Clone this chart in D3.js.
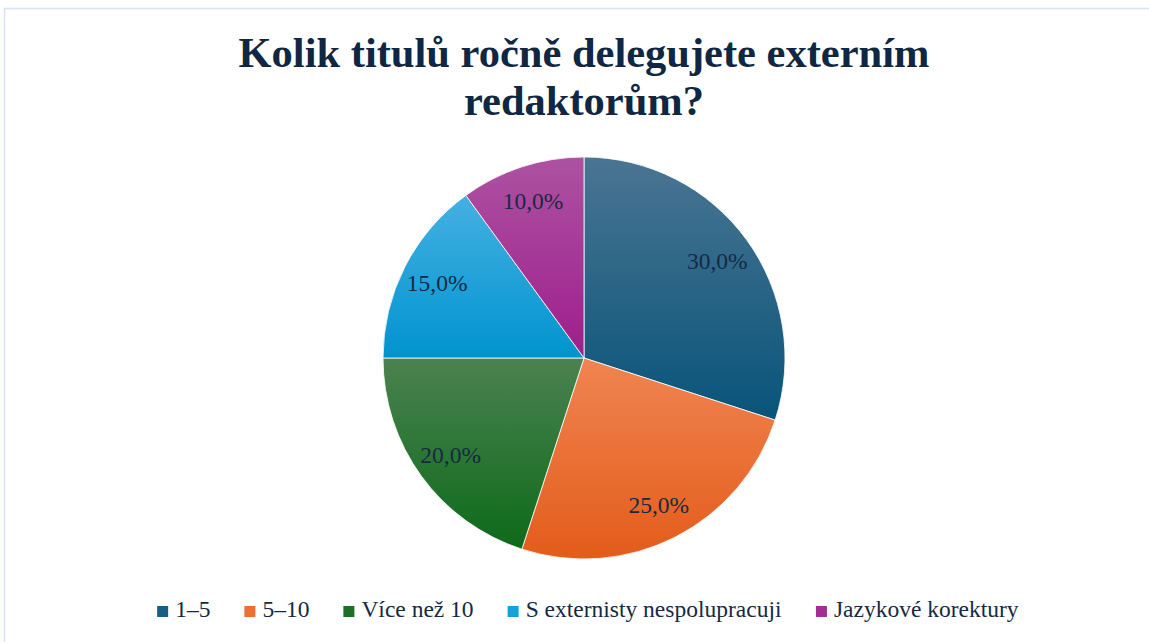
<!DOCTYPE html>
<html lang="cs">
<head>
<meta charset="UTF-8">
<title>Kolik titulů ročně delegujete externím redaktorům?</title>
<script src="https://cdn.jsdelivr.net/npm/d3@7"></script>
<style>
  body { margin: 0; background: #fff; }
  svg { display: block; }
</style>
</head>
<body>
<svg id="chart" width="1149" height="642"></svg>
<script>
const categories = ["1–5", "5–10", "Více než 10", "S externisty nespolupracuji", "Jazykové korektury"];
const values = [30, 25, 20, 15, 10];
const topColors = ["#4a7592", "#f08452", "#4b8250", "#45b0e2", "#ad52a2"];
const bottomColors = ["#08547a", "#e35c1a", "#0d6a1a", "#0094cf", "#9e1e8c"];
const legendColors = ["#1a5f82", "#ec7033", "#1e6e26", "#13a2dc", "#a22e92"];
const titleLines = ["Kolik titulů ročně delegujete externím", "redaktorům?"];

const width = 1149, height = 642;
const cx = 584, cy = 358, r = 201;
const textColor = "#132a45";
const font = '"Liberation Serif", "Times New Roman", serif';

const svg = d3.select("#chart");

// frame of the chart area
svg.append("rect")
  .attr("x", 4.5).attr("y", 8.5)
  .attr("width", width).attr("height", height)
  .attr("fill", "#fff")
  .attr("stroke", "#d5e3f2")
  .attr("stroke-width", 1.5);

svg.append("text")
  .style("font-family", font)
  .attr("text-anchor", "middle")
  .attr("font-weight", "bold")
  .attr("font-size", 42.5)
  .attr("fill", "#0f2742")
  .selectAll("tspan")
  .data(titleLines)
  .join("tspan")
  .attr("x", cx)
  .attr("y", (d, i) => 67 + i * 48)
  .text(d => d);

const pie = d3.pie().sort(null).value(d => d);
const arcs = pie(values);
const arc = d3.arc().innerRadius(0).outerRadius(r);
const labelArc = d3.arc().innerRadius(r * 0.82).outerRadius(r * 0.82);

const defs = svg.append("defs");
arcs.forEach((a, i) => {
  // vertical extent of the slice, the gradient runs over it
  const pts = [[0, 0]];
  const steps = 40;
  for (let k = 0; k <= steps; k++) {
    const t = a.startAngle + (a.endAngle - a.startAngle) * k / steps;
    pts.push([Math.sin(t) * r, -Math.cos(t) * r]);
  }
  const ys = pts.map(p => p[1]);
  const g = defs.append("linearGradient")
    .attr("id", "grad" + i)
    .attr("gradientUnits", "userSpaceOnUse")
    .attr("x1", 0).attr("x2", 0)
    .attr("y1", d3.min(ys)).attr("y2", d3.max(ys));
  g.append("stop").attr("offset", "0%").attr("stop-color", topColors[i]);
  g.append("stop").attr("offset", "100%").attr("stop-color", bottomColors[i]);
});

const pieG = svg.append("g").attr("transform", `translate(${cx},${cy})`);

pieG.selectAll("path")
  .data(arcs)
  .join("path")
  .attr("d", arc)
  .attr("fill", (d, i) => `url(#grad${i})`)
  .attr("stroke", "#fff")
  .attr("stroke-width", 0.8);

const fmt = v => v.toFixed(1).replace(".", ",") + "%";
pieG.selectAll("text.lbl")
  .data(arcs)
  .join("text")
  .attr("class", "lbl")
  .style("font-family", font)
  .attr("transform", d => `translate(${labelArc.centroid(d)})`)
  .attr("text-anchor", "middle")
  .attr("dy", "0.33em")
  .attr("font-size", 23.5)
  .attr("fill", "#162a44")
  .text(d => fmt(d.data));

// legend
const legend = svg.append("g")
  .style("font-family", font)
  .attr("font-size", 23.5)
  .attr("fill", textColor);
const items = legend.selectAll("g")
  .data(categories)
  .join("g");
items.append("rect")
  .attr("width", 11).attr("height", 11)
  .attr("y", -11)
  .attr("fill", (d, i) => legendColors[i]);
items.append("text")
  .attr("x", 18)
  .attr("y", 0)
  .text(d => d);

const gap = 34;
let widths = [];
items.each(function () { widths.push(this.getBBox().width); });
const total = d3.sum(widths) + gap * (widths.length - 1);
let xPos = 588 - total / 2;
items.attr("transform", (d, i) => {
  const t = `translate(${xPos},617)`;
  xPos += widths[i] + gap;
  return t;
});
</script>
</body>
</html>
